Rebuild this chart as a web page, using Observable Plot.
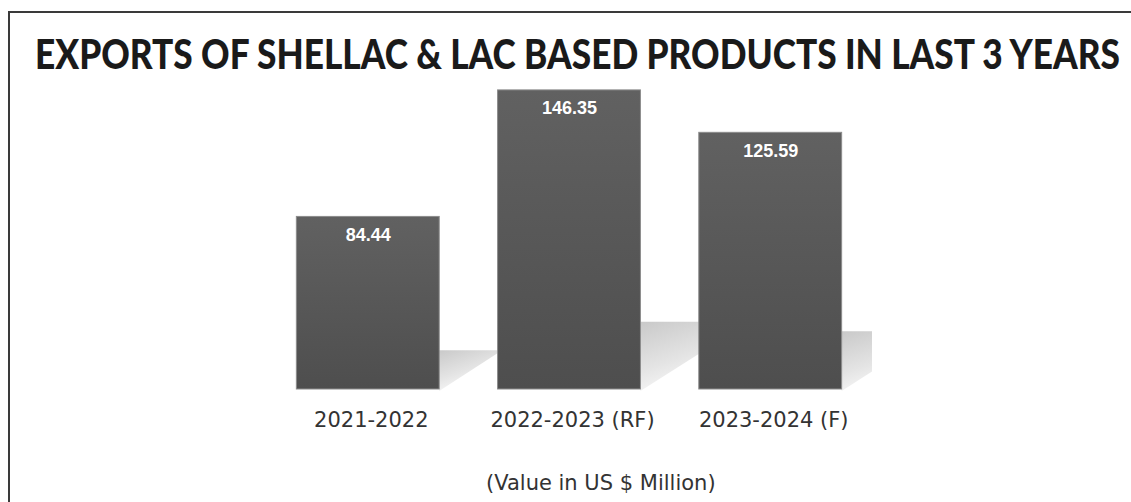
<!DOCTYPE html>
<html>
<head>
<meta charset="utf-8">
<script src="https://cdn.jsdelivr.net/npm/d3@7"></script>
<script src="https://cdn.jsdelivr.net/npm/@observablehq/plot@0.6"></script>
<style>
  html, body { margin: 0; padding: 0; background: #fff; }
  #wrap { position: relative; width: 1131px; height: 502px; overflow: hidden; background: #fff; }
  #frame { position: absolute; left: 8px; top: 11px; right: -10px; bottom: -10px;
           border-top: 2px solid #3a3a3a; border-left: 2px solid #3a3a3a; }
  #title { position: absolute; left: 35px; top: 33px; margin: 0; white-space: nowrap;
           font-family: Lato, "Open Sans", sans-serif; font-weight: 900; font-size: 41px;
           line-height: 41px; color: #1a1a1a; transform-origin: 0 0; }
  #chart { position: absolute; left: 0; top: 0; }
  #caption { position: absolute; left: 486px; top: 473px; white-space: nowrap;
             font-family: "DejaVu Sans", Verdana, sans-serif; font-size: 21px; line-height: 21px; color: #333; }
</style>
</head>
<body>
<div id="wrap">
  <div id="frame"></div>
  <div id="title"></div>
  <div id="chart"></div>
  <div id="caption"></div>
</div>
<script>
const titleText = "EXPORTS OF SHELLAC & LAC BASED PRODUCTS IN LAST 3 YEARS";
const captionText = "(Value in US $ Million)";
const periods = ["2021-2022", "2022-2023 (RF)", "2023-2024 (F)"];
const values = [84.44, 146.35, 125.59];
const valueLabels = ["84.44", "146.35", "125.59"];

const data = periods.map((p, i) => ({period: p, value: values[i], label: valueLabels[i]}));

// Decorative floor shadow behind each bar, drawn from the library's scales
const shadowMark = Plot.barY(data, {
  x: "period", y: "value",
  render(index, scales) {
    const g = d3.create("svg:g").attr("clip-path", "url(#shadowClip)");
    const bw = scales.x.bandwidth();
    for (const i of index) {
      const d = data[i];
      const right = scales.x(d.period) + bw;
      const base = scales.y(0);
      const h = base - scales.y(d.value);
      const sh = h * 0.225;
      const w = sh * 1.62;
      g.append("path")
        .attr("d", `M${right},${base - sh}L${right + w},${base - sh}L${right},${base + 2}Z`)
        .attr("fill", "url(#shadowGrad)");
    }
    return g.node();
  }
});

const chart = Plot.plot({
  width: 1131,
  height: 440,
  marginLeft: 238,
  marginRight: 231,
  marginTop: 62,
  marginBottom: 51,
  style: { fontFamily: "'DejaVu Sans', Verdana, sans-serif", background: "transparent", overflow: "visible" },
  x: { type: "band", domain: periods, padding: 0.29, round: false, axis: null },
  y: { domain: [0, 160], axis: null },
  marks: [
    shadowMark,
    Plot.barY(data, { x: "period", y: "value", fill: "url(#barGrad)", stroke: "#8c8c8c", strokeWidth: 1 }),
    Plot.text(data, { x: "period", y: "value", text: "label", fill: "white", fontSize: 18,
      fontWeight: "bold", fontFamily: "'Liberation Sans', Arial, sans-serif", lineAnchor: "bottom", dy: 24 }),
    Plot.axisX({ domain: periods, tickSize: 0, tickPadding: 23, fontSize: 21, fill: "#333", dx: 3, label: null })
  ]
});

const svg = d3.select(chart);
const defs = svg.insert("defs", ":first-child");
const bg = defs.append("linearGradient").attr("id", "barGrad").attr("x1", 0).attr("y1", 0).attr("x2", 0).attr("y2", 1);
bg.append("stop").attr("offset", "0%").attr("stop-color", "#616161");
bg.append("stop").attr("offset", "100%").attr("stop-color", "#4e4e4e");
const sg = defs.append("linearGradient").attr("id", "shadowGrad").attr("x1", 0).attr("y1", 0).attr("x2", 0.55).attr("y2", 1);
sg.append("stop").attr("offset", "0%").attr("stop-color", "#c9c9c9");
sg.append("stop").attr("offset", "55%").attr("stop-color", "#e4e4e4");
sg.append("stop").attr("offset", "100%").attr("stop-color", "#ffffff");
defs.append("clipPath").attr("id", "shadowClip").append("rect")
  .attr("x", 0).attr("y", 0).attr("width", 872).attr("height", 440);

document.getElementById("chart").appendChild(chart);
document.getElementById("caption").textContent = captionText;

const t = document.getElementById("title");
t.textContent = titleText;
const natural = t.getBoundingClientRect().width;
t.style.transform = `scaleX(${1085 / natural})`;
</script>
</body>
</html>
